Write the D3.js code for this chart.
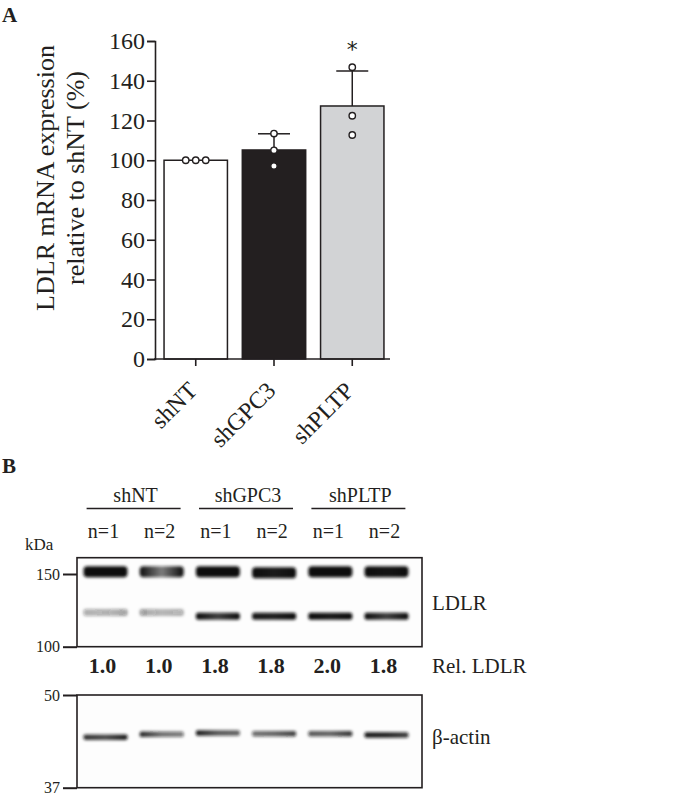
<!DOCTYPE html>
<html><head><meta charset="utf-8">
<script src="https://cdn.jsdelivr.net/npm/d3@7"></script>
<style>body{margin:0;background:#fff}</style>
</head><body>
<svg id="c" width="693" height="802"></svg>
<script>
// ---------- Panel A data ----------
const categories = ["shNT", "shGPC3", "shPLTP"];
const replicateValues = [
  [100, 100, 100],
  [113.4, 105.0, 97.1],
  [146.8, 122.4, 112.7]
];
const barColors = ["#ffffff", "#231f20", "#d2d3d5"];
const significance = ["", "", "*"];
const yTicks = [0, 20, 40, 60, 80, 100, 120, 140, 160];
const yTitleLines = ["LDLR mRNA expression", "relative to shNT (%)"];

// ---------- Panel B data ----------
const groupLabels = ["shNT", "shGPC3", "shPLTP"];
const laneLabels = ["n=1", "n=2", "n=1", "n=2", "n=1", "n=2"];
const laneGroup = [0, 0, 1, 1, 2, 2];
const relLDLR = ["1.0", "1.0", "1.8", "1.8", "2.0", "1.8"];
const ldlrMarkers = [150, 100];
const actinMarkers = [50, 37];
const ldlrUpperKDa = [152, 152, 152, 151, 152, 152];
const ldlrLowerKDa = [121, 121, 118.5, 118.5, 118.5, 118.5];
const actinKDa = [43.6, 44.0, 44.2, 44.1, 44.1, 43.9];
const ldlrUpperIntensity = [[1,1,1],[1,0.55,1],[1,1,1],[1,0.95,1],[1,1,1],[1,0.97,1]];
const ldlrLowerIntensity = [[0.35,0.3,0.4],[0.4,0.28,0.33],[1,0.8,1],[0.95,0.92,1],[1,0.95,1],[1,0.8,1]];
const actinIntensity = [[0.85,0.75,0.95],[0.9,0.6,0.55],[0.95,0.7,0.65],[0.6,0.65,0.8],[0.7,0.65,0.85],[0.95,0.92,0.8]];

const serif = "'Liberation Serif','Times New Roman',serif";
const ink = "#231f20";
const svg = d3.select("#c");
const defs = svg.append("defs");
defs.append("filter").attr("id", "blur").attr("x", "-20%").attr("y", "-100%").attr("width", "140%").attr("height", "300%")
  .append("feGaussianBlur").attr("stdDeviation", 1.4);

// ================= Panel A =================
svg.append("text").attr("x", 2).attr("y", 22).attr("font-family", serif).attr("font-weight", "bold")
  .attr("font-size", 21).attr("fill", ink).text("A");

const y = d3.scaleLinear().domain([0, 160]).range([359, 41]);
const x = d3.scaleBand().domain(categories).range([157, 391]).paddingInner(0.19).paddingOuter(0.09);

const gA = svg.append("g");
const yAxis = gA.append("g").attr("transform", "translate(155,0)")
  .call(d3.axisLeft(y).tickValues(yTicks).tickSize(8).tickPadding(2));
yAxis.select(".domain").attr("stroke", ink).attr("stroke-width", 1.6);
yAxis.selectAll(".tick line").attr("stroke", ink).attr("stroke-width", 1.6);
yAxis.selectAll(".tick text").attr("font-family", serif).attr("font-size", 24).attr("fill", ink);

// y-title
const yt = gA.append("text").attr("transform", "translate(0,178) rotate(-90)")
  .attr("text-anchor", "middle").attr("font-family", serif).attr("font-size", 26).attr("fill", ink);
yTitleLines.forEach((t, i) => yt.append("tspan").attr("x", 0).attr("y", 54 + i * 30).text(t));

// bars
const stats = categories.map((c, i) => ({
  cat: c, mean: d3.mean(replicateValues[i]), sd: d3.deviation(replicateValues[i]) || 0,
  color: barColors[i], sig: significance[i], vals: replicateValues[i]
}));
gA.selectAll("rect.bar").data(stats).join("rect").attr("class", "bar")
  .attr("x", d => x(d.cat)).attr("width", x.bandwidth())
  .attr("y", d => y(d.mean)).attr("height", d => y(0) - y(d.mean))
  .attr("fill", d => d.color).attr("stroke", ink).attr("stroke-width", 1.5);

// error bars (upward SD)
stats.forEach(d => {
  if (d.sd <= 0) return;
  const cx = x(d.cat) + x.bandwidth() / 2;
  gA.append("line").attr("x1", cx).attr("x2", cx).attr("y1", y(d.mean)).attr("y2", y(d.mean + d.sd))
    .attr("stroke", ink).attr("stroke-width", 1.5);
  gA.append("line").attr("x1", cx - 16).attr("x2", cx + 16).attr("y1", y(d.mean + d.sd)).attr("y2", y(d.mean + d.sd))
    .attr("stroke", ink).attr("stroke-width", 1.5);
});

// x axis
const xAxis = gA.append("g").attr("transform", "translate(0,359)")
  .call(d3.axisBottom(x).tickSize(7).tickFormat(""));
xAxis.select(".domain").remove();
xAxis.selectAll(".tick line").attr("stroke", ink).attr("stroke-width", 1.6);
gA.append("line").attr("x1", 154).attr("x2", 390).attr("y1", 359).attr("y2", 359).attr("stroke", ink).attr("stroke-width", 1.6);
gA.selectAll("text.xl").data(categories).join("text").attr("class", "xl")
  .attr("transform", d => `translate(${x(d) + x.bandwidth() / 2 + 3},392) rotate(-45)`)
  .attr("text-anchor", "end").attr("font-family", serif).attr("font-size", 24).attr("fill", ink).text(d => d);

// replicate points
stats.forEach(d => {
  const cx = x(d.cat) + x.bandwidth() / 2;
  const pts = d.vals.map((v, j) => ({ v, j }));
  pts.forEach(p => {
    const same = d.vals.filter(v => v === p.v).length;
    const idx = d.vals.slice(0, p.j).filter(v => v === p.v).length;
    const off = (idx - (same - 1) / 2) * 10;
    gA.append("circle").attr("cx", cx + off).attr("cy", y(p.v)).attr("r", 3.2)
      .attr("fill", "#fff").attr("stroke", ink).attr("stroke-width", 1.4);
  });
  if (d.sig) {
    gA.append("text").attr("x", cx).attr("y", y(d.mean + d.sd) - 14).attr("text-anchor", "middle")
      .attr("font-family", "'DejaVu Sans',sans-serif").attr("font-size", 22).attr("fill", ink).text(d.sig);
  }
});

// ================= Panel B =================
svg.append("text").attr("x", 2).attr("y", 473).attr("font-family", serif).attr("font-weight", "bold")
  .attr("font-size", 21).attr("fill", ink).text("B");

const lanes = d3.range(laneLabels.length);
const lx = d3.scalePoint().domain(lanes).range([105.5, 386.5]);
const gB = svg.append("g").attr("font-family", serif).attr("fill", ink);

// group headers
groupLabels.forEach((g, gi) => {
  const ls = lanes.filter(l => laneGroup[l] === gi);
  const cx = d3.mean(ls, l => lx(l));
  gB.append("text").attr("x", cx + 2).attr("y", 502).attr("text-anchor", "middle").attr("font-size", 20).text(g);
  gB.append("line").attr("x1", cx - 47).attr("x2", cx + 47).attr("y1", 508.5).attr("y2", 508.5)
    .attr("stroke", ink).attr("stroke-width", 1.5);
});
gB.selectAll("text.nl").data(lanes).join("text").attr("class", "nl")
  .attr("x", l => lx(l) - 2).attr("y", 538).attr("text-anchor", "middle").attr("font-size", 20).text(l => laneLabels[l]);
gB.append("text").attr("x", 25).attr("y", 550).attr("font-size", 17).text("kDa");

function blot(top, bottom, markers, rowDefs, idp) {
  const my = d3.scaleLog().domain(markers).range([top + (markers[0] === 150 ? 16.3 : 0), bottom]);
  const g = gB.append("g");
  g.append("rect").attr("x", 77).attr("y", top).attr("width", 345).attr("height", bottom - top)
    .attr("fill", "#fdfdfd").attr("stroke", ink).attr("stroke-width", 1.6);
  const ax = g.append("g").attr("transform", "translate(77,0)")
    .call(d3.axisLeft(my).tickValues(markers).tickFormat(d3.format("d")).tickSize(14).tickPadding(3));
  ax.select(".domain").remove();
  ax.selectAll(".tick line").attr("stroke", ink).attr("stroke-width", 2);
  ax.selectAll(".tick text").attr("font-family", serif).attr("font-size", 16).attr("fill", ink);
  const bands = g.append("g").attr("filter", "url(#blur)");
  rowDefs.forEach((row, ri) => {
    lanes.forEach(l => {
      const gid = `${idp}${ri}_${l}`;
      const grad = defs.append("linearGradient").attr("id", gid);
      row.intensity[l].forEach((v, k) => grad.append("stop").attr("offset", k / 2)
        .attr("stop-color", "#111").attr("stop-opacity", v));
      bands.append("rect").attr("x", lx(l) - row.w / 2).attr("width", row.w)
        .attr("y", my(row.kda[l]) - row.h / 2).attr("height", row.h).attr("rx", row.h / 3)
        .attr("fill", `url(#${gid})`);
    });
  });
  return my;
}
blot(557.7, 646.7, ldlrMarkers, [
  { kda: ldlrUpperKDa, intensity: ldlrUpperIntensity, w: 44, h: 11 },
  { kda: ldlrLowerKDa, intensity: ldlrLowerIntensity, w: 44, h: 7 }
], "ld");
blot(695, 787.7, actinMarkers, [
  { kda: actinKDa, intensity: actinIntensity, w: 44, h: 5.5 }
], "ac");

gB.selectAll("text.rel").data(lanes).join("text").attr("class", "rel")
  .attr("x", l => lx(l) - 3).attr("y", 673).attr("text-anchor", "middle").attr("font-size", 22)
  .attr("font-weight", "bold").text(l => relLDLR[l]);
gB.append("text").attr("x", 432).attr("y", 610).attr("font-size", 21).text("LDLR");
gB.append("text").attr("x", 432).attr("y", 673).attr("font-size", 21).text("Rel. LDLR");
gB.append("text").attr("x", 432).attr("y", 744).attr("font-size", 21).text("β-actin");
</script>
</body></html>
